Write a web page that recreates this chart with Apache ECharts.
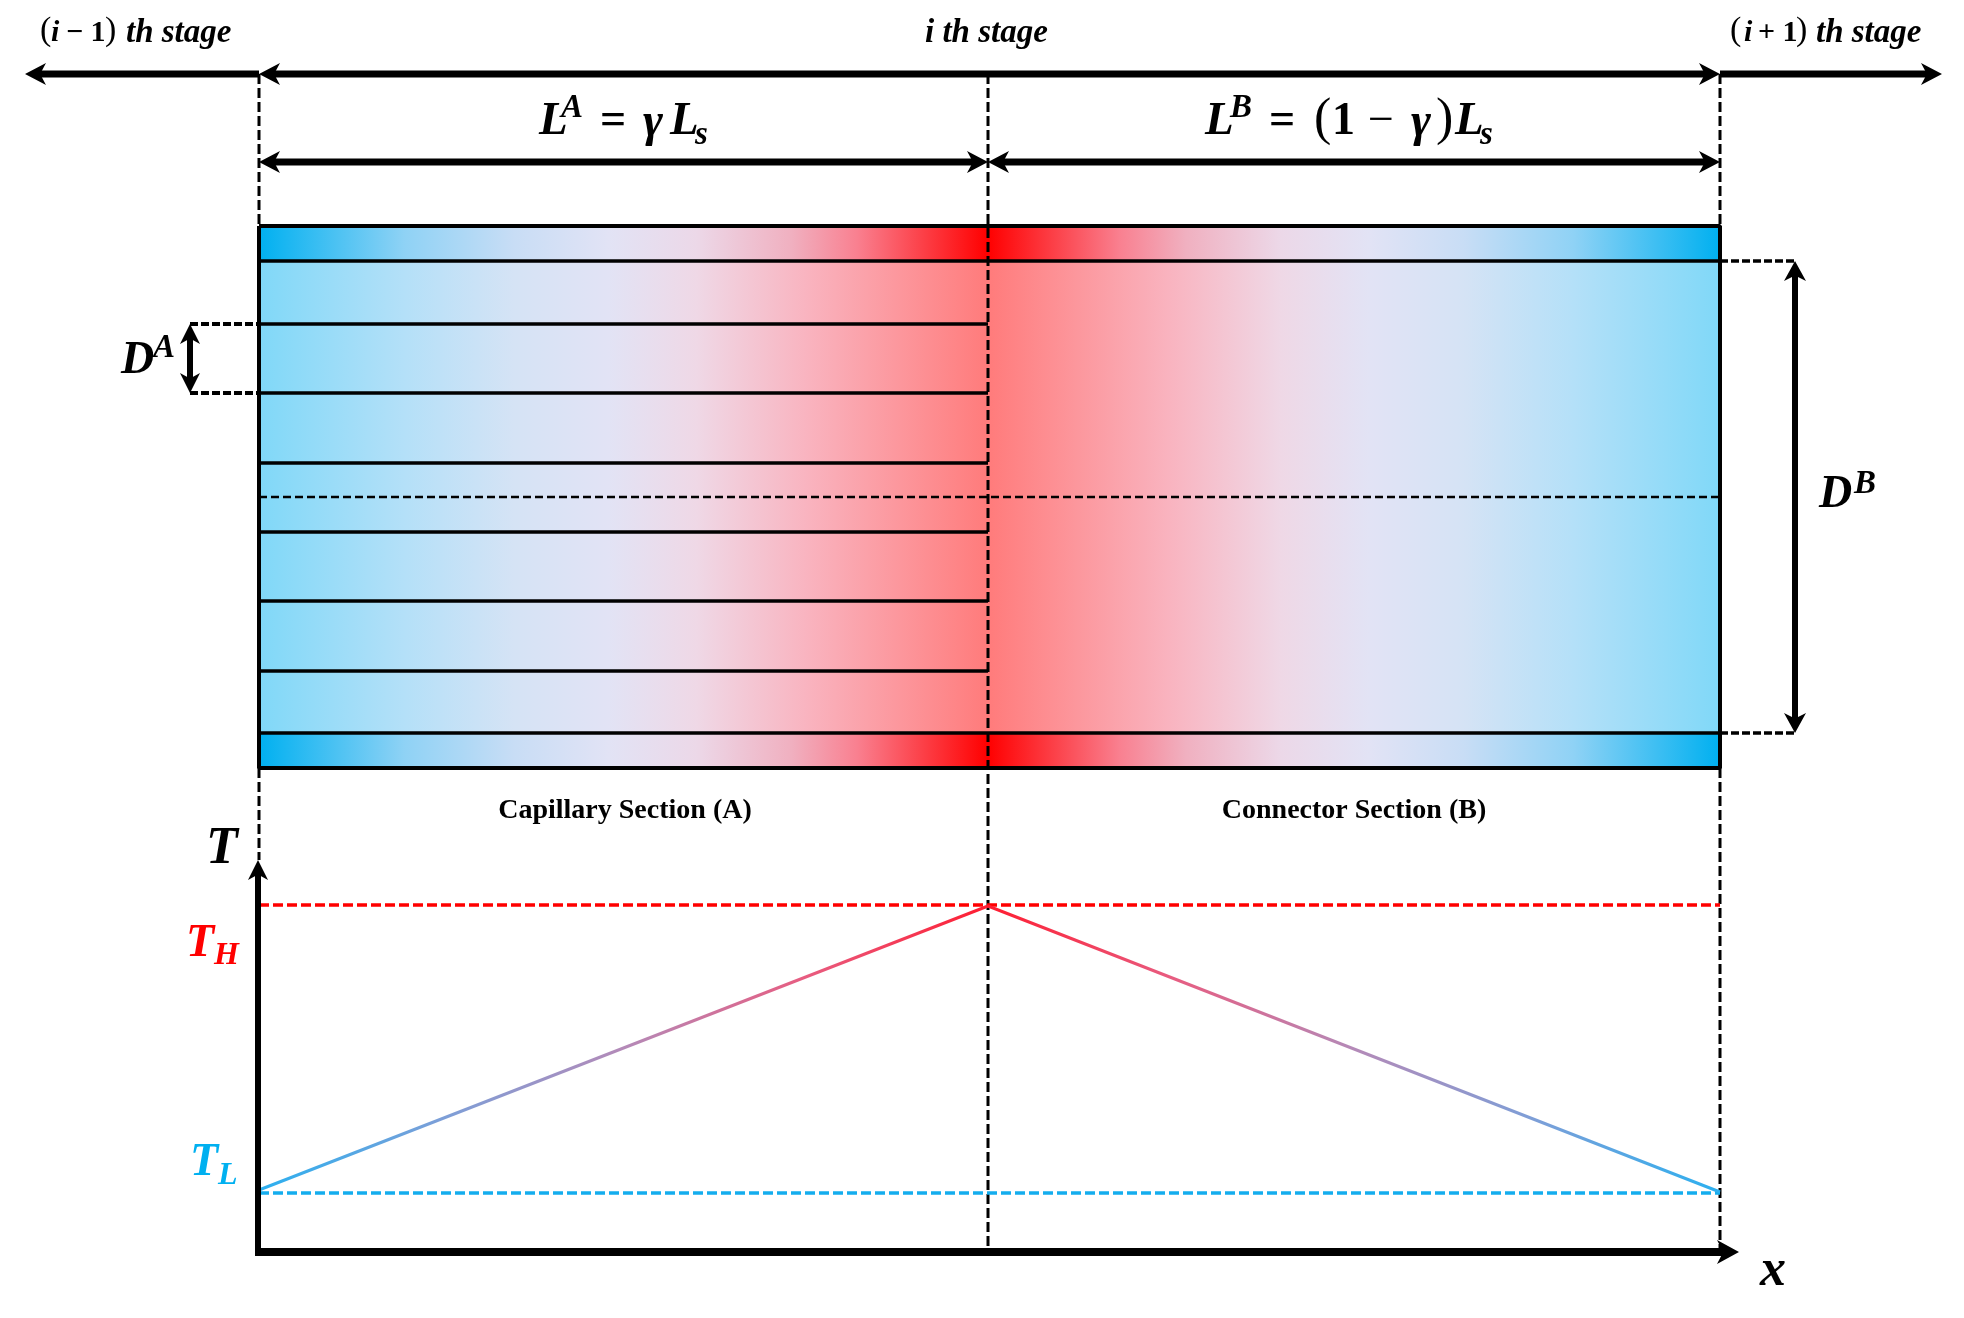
<!DOCTYPE html>
<html>
<head>
<meta charset="utf-8">
<script src="https://cdn.jsdelivr.net/npm/echarts@6/dist/echarts.min.js"></script>
<style>
  html, body { margin: 0; padding: 0; background: #fff; }
  #main { width: 1964px; height: 1318px; }
</style>
</head>
<body>
<div id="main"></div>
<script>
// stage geometry
var stageX = [259, 988, 1720];
var stageY = [74, 162];
var outerEnds = [25, 1942];
var channelTop = 226, channelBottom = 768;
var connectorWalls = [261, 733];
var capillaryWalls = [324, 393, 463, 532, 601, 671];
var midPlane = 497;
var dimAX = 190, dimBX = 1795;

// temperature plot
var axisOrigin = [259, 1252];
var axisEnds = [1739, 860];
var tempHigh = 905, tempLow = 1193;
var profileLeft = [[259, 1190], [988, 906]];
var profileRight = [[988, 906], [1720, 1192]];

// colour stops along one half of the channel, cold end to hot end
var stripStops = [[0, '#00b0f0'], [0.2, '#8fd2f5'], [0.35, '#c8ddf5'], [0.48, '#e2e3f5'], [0.6, '#ecd8e8'], [0.73, '#f0b0c0'], [0.82, '#f98090'], [1, '#ff0000']];
var bodyStops = [[0, '#80d8f8'], [0.2, '#b4e0f8'], [0.35, '#d5e3f5'], [0.48, '#e2e3f5'], [0.6, '#efd8e6'], [0.75, '#f9b4c0'], [1, '#ff7b7b']];
var profileStops = [[0, '#2ab0f0'], [0.25, '#7c9fd8'], [0.5, '#b48ab8'], [0.75, '#e85c80'], [1, '#ff1c30']];

var SERIF = '"Liberation Serif", serif';
var RED = '#ff0000', BLUE = '#14adee';

// [text, x, y (middle), size, 0 upright bold / 1 italic bold / 2 upright regular, colour]
var labels = [
    ['(', 40, 31, 34, 2], ['i', 51, 33, 30, 1], ['− 1', 66, 33, 30, 0], [')', 105, 31, 34, 2], ['th stage', 126, 33, 33, 1],
    ['i th stage', 925, 33, 33, 1],
    ['(', 1730, 31, 34, 2], ['i', 1744, 33, 30, 1], ['+ 1', 1758, 33, 30, 0], [')', 1796, 31, 34, 2], ['th stage', 1816, 33, 33, 1],

    ['L', 539, 122, 47, 1], ['A', 561, 108, 33, 1], ['=', 600, 122, 46, 0], ['γ', 643, 124, 48, 1], ['L', 670, 122, 47, 1], ['s', 695, 135, 33, 1],
    ['L', 1205, 122, 47, 1], ['B', 1230, 108, 33, 1], ['=', 1269, 122, 46, 0], ['(', 1314, 120, 52, 2], ['1', 1332, 122, 46, 0], ['−', 1368, 122, 46, 2],
    ['γ', 1411, 124, 48, 1], [')', 1436, 120, 52, 2], ['L', 1455, 122, 47, 1], ['s', 1480, 135, 33, 1],

    ['D', 121, 361, 46, 1], ['A', 153, 348, 33, 1],
    ['D', 1819, 495, 46, 1], ['B', 1854, 484, 33, 1],

    ['T', 206, 850, 52, 1],
    ['T', 186, 944, 46, 1, RED], ['H', 214, 956, 32, 1, RED],
    ['T', 190, 1163, 46, 1, '#00b0f0'], ['L', 218, 1176, 32, 1, '#00b0f0'],
    ['x', 1760, 1272, 52, 1]
];
var sectionNames = [['Capillary Section (A)', 625], ['Connector Section (B)', 1354]];
var sectionY = 811;

function gradient(stops, flip) {
    return {
        type: 'linear', x: 0, y: 0, x2: 1, y2: 0,
        colorStops: stops.map(function (s) { return { offset: flip ? 1 - s[0] : s[0], color: s[1] }; })
            .sort(function (a, b) { return a.offset - b.offset; })
    };
}

function segment(points, width, color, dash) {
    return {
        type: 'line', data: points, showSymbol: false, silent: true, animation: false, z: 5,
        clip: false,
        lineStyle: { width: width, color: color, type: dash || 'solid', cap: 'butt' }
    };
}

// filled bands of the channel
function bandSeries(rows, stops) {
    return {
        type: 'custom', silent: true, animation: false, z: 1, data: rows,
        renderItem: function (params, api) {
            var a = api.coord([api.value(0), api.value(2)]);
            var b = api.coord([api.value(1), api.value(3)]);
            return {
                type: 'rect', shape: { x: a[0], y: a[1], width: b[0] - a[0], height: b[1] - a[1] },
                style: { fill: gradient(stops, api.value(4) === 1) }
            };
        }
    };
}

// arrows: x1, y1, x2, y2, both ends?, shaft width, head length, head half width
function arrowSeries(rows) {
    return {
        type: 'custom', silent: true, animation: false, z: 6, data: rows,
        renderItem: function (params, api) {
            var a = api.coord([api.value(0), api.value(1)]);
            var b = api.coord([api.value(2), api.value(3)]);
            var w = api.value(5), len = api.value(6), half = api.value(7);
            var dx = b[0] - a[0], dy = b[1] - a[1], d = Math.sqrt(dx * dx + dy * dy);
            var ux = dx / d, uy = dy / d;
            function head(tip, sx, sy) {
                return {
                    type: 'polygon',
                    shape: { points: [
                        tip,
                        [tip[0] - sx * len - sy * half, tip[1] - sy * len + sx * half],
                        [tip[0] - sx * len * 0.72, tip[1] - sy * len * 0.72],
                        [tip[0] - sx * len + sy * half, tip[1] - sy * len - sx * half]
                    ] },
                    style: { fill: '#000' }
                };
            }
            var kids = [
                { type: 'line', shape: { x1: a[0], y1: a[1], x2: b[0] - ux * len * 0.7, y2: b[1] - uy * len * 0.7 },
                  style: { stroke: '#000', lineWidth: w } },
                head(b, ux, uy)
            ];
            if (api.value(4) === 1) {
                kids[0].shape.x1 = a[0] + ux * len * 0.7;
                kids[0].shape.y1 = a[1] + uy * len * 0.7;
                kids.push(head(a, -ux, -uy));
            }
            return { type: 'group', children: kids };
        }
    };
}

function textSeries(rows) {
    return {
        type: 'custom', silent: true, animation: false, z: 8, data: rows.map(function (r, i) { return [r[1], r[2], i]; }),
        renderItem: function (params, api) {
            var r = rows[api.value(2)];
            var p = api.coord([api.value(0), api.value(1)]);
            return {
                type: 'text', x: p[0], y: p[1],
                style: {
                    text: r[0], fontFamily: SERIF, fontSize: r[3],
                    fontStyle: r[4] === 1 ? 'italic' : 'normal', fontWeight: r[4] === 2 ? 'normal' : 'bold',
                    fill: r[5] || '#000', align: r[6] || 'left', verticalAlign: 'middle'
                }
            };
        }
    };
}

var xL = stageX[0], xM = stageX[1], xR = stageX[2];
var series = [];

series.push(bandSeries([
    [xL, xM, channelTop, connectorWalls[0], 0], [xM, xR, channelTop, connectorWalls[0], 1],
    [xL, xM, connectorWalls[1], channelBottom, 0], [xM, xR, connectorWalls[1], channelBottom, 1]
], stripStops));
series.push(bandSeries([
    [xL, xM, connectorWalls[0], connectorWalls[1], 0], [xM, xR, connectorWalls[0], connectorWalls[1], 1]
], bodyStops));

// channel outline and walls
series.push(segment([[xL, channelTop], [xR, channelTop], [xR, channelBottom], [xL, channelBottom], [xL, channelTop]], 4, '#000'));
connectorWalls.forEach(function (y) { series.push(segment([[xL, y], [xR, y]], 3.5, '#000')); });
capillaryWalls.forEach(function (y) { series.push(segment([[xL, y], [xM, y]], 3.5, '#000')); });
series.push(segment([[xL, midPlane], [xR, midPlane]], 2.5, '#000', [8, 4]));

// stage boundaries
series.push(segment([[xL, stageY[0]], [xL, channelTop]], 3, '#000', [10, 4]));
series.push(segment([[xL, channelBottom], [xL, axisEnds[1]]], 3, '#000', [10, 4]));
series.push(segment([[xM, stageY[0]], [xM, axisOrigin[1]]], 3, '#000', [10, 4]));
series.push(segment([[xR, stageY[0]], [xR, channelTop]], 3, '#000', [10, 4]));
series.push(segment([[xR, channelBottom], [xR, axisOrigin[1]]], 3, '#000', [10, 4]));

// dimension leaders
capillaryWalls.slice(0, 2).forEach(function (y) { series.push(segment([[dimAX, y], [xL, y]], 4, '#000', [8, 3])); });
connectorWalls.forEach(function (y) { series.push(segment([[xR, y], [dimBX, y]], 3.5, '#000', [8, 3])); });

// temperature levels and profile
series.push(segment([[xL, tempHigh], [xR, tempHigh]], 3.5, RED, [10, 4]));
series.push(segment([[xL, tempLow], [xR, tempLow]], 3.5, BLUE, [10, 4]));
series.push(segment(profileLeft, 3, gradient(profileStops, false)));
series.push(segment(profileRight, 3, gradient(profileStops, true)));

series.push(arrowSeries([
    [xL, stageY[0], outerEnds[0], stageY[0], 0, 7, 21, 11],
    [xL, stageY[0], xR, stageY[0], 1, 7, 21, 11],
    [xR, stageY[0], outerEnds[1], stageY[0], 0, 7, 21, 11],
    [xL, stageY[1], xM, stageY[1], 1, 7, 21, 11],
    [xM, stageY[1], xR, stageY[1], 1, 7, 21, 11],
    [dimAX, capillaryWalls[0], dimAX, capillaryWalls[1], 1, 6, 20, 10],
    [dimBX, connectorWalls[0], dimBX, connectorWalls[1], 1, 6, 20, 11],
    [axisOrigin[0] - 1, axisOrigin[1] + 4, axisOrigin[0] - 1, axisEnds[1], 0, 6, 20, 10],
    [axisOrigin[0] - 4, axisOrigin[1], axisEnds[0], axisOrigin[1], 0, 8, 22, 12]
]));

series.push(textSeries(labels));
series.push(textSeries(sectionNames.map(function (s) { return [s[0], s[1], sectionY, 28, 0, '#000', 'center']; })));

var option = {
    backgroundColor: '#fff',
    animation: false,
    grid: { left: 0, right: 0, top: 0, bottom: 0 },
    xAxis: { type: 'value', min: 0, max: 1964, show: false },
    yAxis: { type: 'value', min: 0, max: 1318, inverse: true, show: false },
    series: series
};

var chart = echarts.init(document.getElementById('main'));
chart.setOption(option);
</script>
</body>
</html>
